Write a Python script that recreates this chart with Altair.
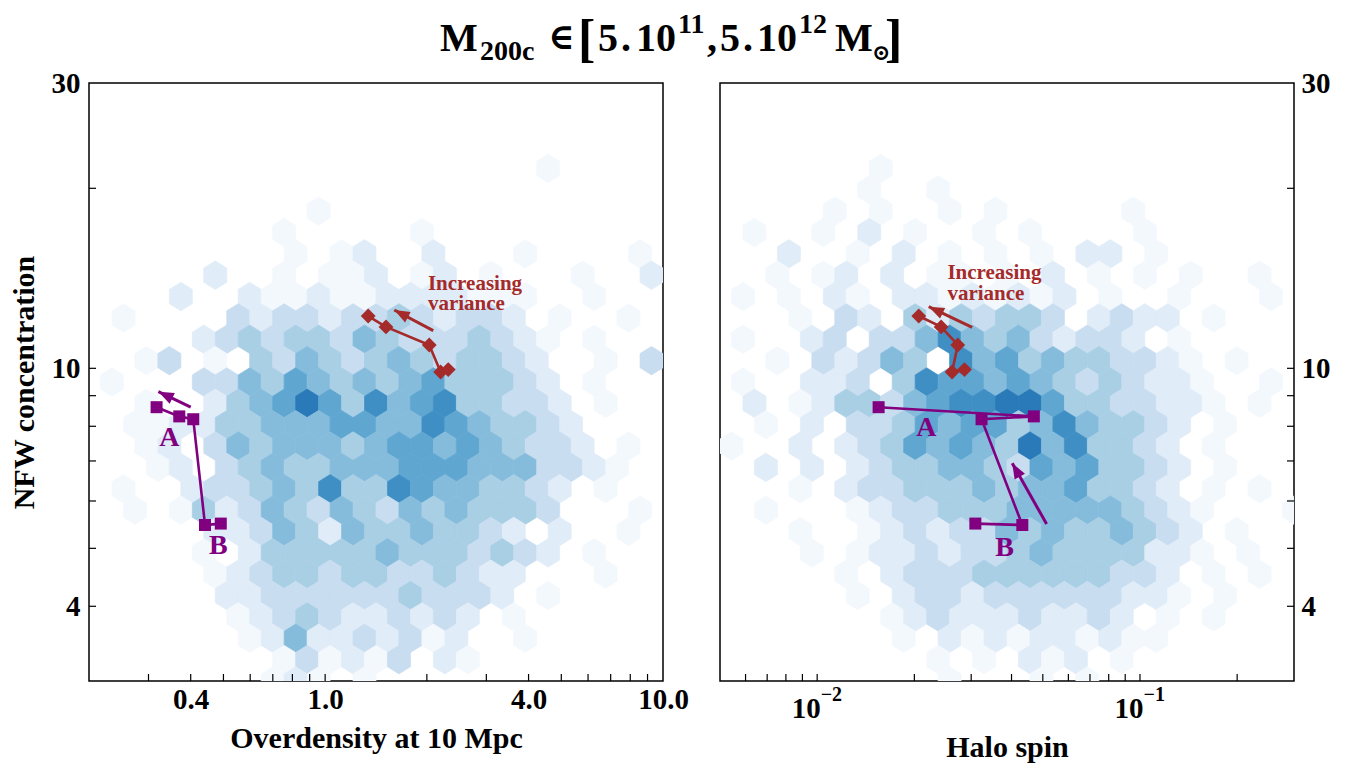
import altair as alt
import numpy as np
import pandas as pd

FONT = "Liberation Serif, DejaVu Serif"
W, H = 574, 598

# ---------------- hexbin grid (matplotlib-style, gridsize 25) ----------------
GRIDSIZE = 25
NY = 14
Y_LIM = [3.0, 30.0]
X_LIM_LEFT = [0.2, 10.0]
X_LIM_RIGHT = [0.005, 0.3]

# hex colour level per cell ('.' = empty); rows from top (k=28) to bottom (k=0)
left_rows = [
    "..........................",
    ".........................",
    "..........................",
    ".........................",
    "....................1.....",
    ".........................",
    "..........1...............",
    "........1.....1..........",
    ".........1.12..2...1....1.",
    ".....2..1.112.12.1...1..2",
    "....2..2112112222111..1...",
    ".1....3233233432332.1..1.",
    ".....2343443543334321.1...",
    "..13.1.4354345434432..1.3",
    ".1...3354654545644432.1...",
    "..1..2456864756744332.1..",
    "..11224455566557654432....",
    "..12.35455545665654332.1.",
    "...12.345445556665553321..",
    ".1..23345474476554432.1..",
    "..1.14235435435454443...1.",
    ".....22354254454432.2..1.",
    ".....1.24444454443432.1...",
    ".....12344344334322...1..",
    "......2233333343332.1.....",
    "......12343223232.1......",
    ".......1252232312..1......",
    "........131213.21........",
    "........121.1.............",
]

right_rows = [
    "..........................",
    ".........................",
    "..........................",
    ".........................",
    ".......1..................",
    "......1..1...............",
    ".....1.1..1.1.....1.......",
    ".1..1.2.1..1.1....1......",
    "...2..1.2.1.1.1.22.1......",
    "..1.12.2.11.1.2.1.1.1..1.",
    ".1.1.21.22121212.1..1...1.",
    "...1.32.4243443.2322.1...",
    ".1..23.335754532332.1.....",
    "..1.32354.75645443321.1..",
    ".1..223.47665654343221..1.",
    ".2.1244356778864433221.1.",
    "..1.2.334656645754432.1...",
    "1..2.234656548574432.1...",
    "..2.2.234455436564432.1...",
    "...1.233444545564432.1.1.",
    "..1...1233444555554321...1",
    "...1..123233545445432.1..",
    "....1.1223233454444221.1..",
    ".....1.2333444444332.1.1.",
    "......1.2332333333221.1...",
    ".......12322232232.1.1...",
    "........1.2121221211......",
    ".........1.1.212.1.......",
    "..........1...1.1.........",
]

LEVELS = [1, 2, 3, 4, 5, 6, 7, 8]
LEVEL_COLORS = ["#f3f8fd", "#e0ecf8", "#c8ddf0", "#a9cfe5",
                "#85bcdc", "#5fa6d1", "#3f8fc5", "#2a7ab9"]

# ---------------- tracks (shared concentration values) ----------------
purple_c = [8.61, 8.31, 8.22, 5.47, 5.50]
purple_delta = [0.317, 0.370, 0.407, 0.441, 0.491]
purple_spin = [0.0155, 0.0469, 0.0323, 0.0432, 0.0309]

red_c = [12.23, 11.73, 10.94, 9.86, 9.95]
red_delta = [1.341, 1.514, 2.033, 2.197, 2.314]
red_spin = [0.02064, 0.02421, 0.02726, 0.02618, 0.02860]

# arrows: tail x, tail y, head x, head y, screen angle of head, colour
arrows_left = [
    (0.400, 8.61, 0.321, 9.14, 296.0, "#800080"),
    (2.089, 11.56, 1.602, 12.52, 298.0, "#a52a2a"),
]
arrows_right = [
    (0.05138, 5.49, 0.04021, 6.94, 330.7, "#800080"),
    (0.03021, 11.71, 0.02216, 12.68, 295.4, "#a52a2a"),
]

# labels: x, y (baseline), text, colour, size
labels_left = [
    (0.3456, 7.42, "A", "#800080", 28),
    (0.4828, 4.89, "B", "#800080", 28),
    (2.015, 13.53, "Increasing", "#a52a2a", 21),
    (2.015, 12.52, "variance", "#a52a2a", 21),
]
labels_right = [
    (0.02180, 7.715, "A", "#800080", 28),
    (0.03805, 4.855, "B", "#800080", 28),
    (0.02532, 14.11, "Increasing", "#a52a2a", 21),
    (0.02532, 13.02, "variance", "#a52a2a", 21),
]

# ticks
y_ticks = [4, 5, 6, 7, 8, 9, 10, 20]
y_labels = [4, 10, 30]
left_x_ticks = [0.3, 0.4, 0.5, 0.6, 0.7, 0.8, 0.9, 1, 2, 3, 4, 5, 6, 7, 8, 9]
left_x_labels = [0.4, 1.0, 4.0, 10.0]
right_x_ticks = [0.006, 0.007, 0.008, 0.009, 0.01, 0.02, 0.03, 0.04, 0.05,
                 0.06, 0.07, 0.08, 0.09, 0.1, 0.2]
right_x_labels = [0.01, 0.1]
right_x_exps = ["\u22122", "\u22121"]

HEX_PATH = "M0,-1.2403L1,-0.6202L1,0.6202L0,1.2403L-1,0.6202L-1,-0.6202Z"
HEX_SIZE = (W / GRIDSIZE) ** 2
ARROW_PATH = "M0,0L0.5,1.3L-0.5,1.3Z"


def hex_frame(rows, xlim):
    lx0, lx1 = np.log10(xlim)
    ly0, ly1 = np.log10(Y_LIM)
    sx = (lx1 - lx0) / GRIDSIZE
    sy = (ly1 - ly0) / NY
    recs = []
    n = len(rows)
    for r, row in enumerate(rows):
        k = n - 1 - r
        off = 0.0 if k % 2 == 0 else 0.5
        ncell = 26 if k % 2 == 0 else 25
        row = (row + "." * 30)[:ncell]
        for i, ch in enumerate(row):
            if ch == ".":
                continue
            recs.append(dict(x=10 ** (lx0 + (i + off) * sx),
                             y=10 ** (ly0 + k * sy / 2), level=int(ch)))
    return pd.DataFrame(recs)


def panel(rows, xlim, xs, x_ticks, labels, arrows, xaxis, yaxis, right_side=False,
          extra=None):
    xsc = alt.Scale(type="log", domain=xlim, nice=False, zero=False)
    ysc = alt.Scale(type="log", domain=Y_LIM, nice=False, zero=False)

    def X(f):
        return alt.X(f, scale=xsc, axis=xaxis)

    def Y(f):
        return alt.Y(f, scale=ysc, axis=yaxis)

    hexdf = hex_frame(rows, xlim)
    cscale = alt.Scale(domain=LEVELS, range=LEVEL_COLORS)
    hexes = alt.Chart(hexdf).mark_point(
        shape=HEX_PATH, filled=True, size=HEX_SIZE, opacity=1,
        strokeWidth=0.7, clip=True
    ).encode(
        x=X("x:Q"), y=Y("y:Q"),
        fill=alt.Fill("level:O", scale=cscale, legend=None),
        stroke=alt.Stroke("level:O", scale=cscale, legend=None),
    )
    layers = [hexes]
    # inward ticks
    xt = alt.Chart(pd.DataFrame({"x": x_ticks})).mark_rule(
        color="black", strokeWidth=1.2).encode(
        x=X("x:Q"), y=alt.value(H), y2=alt.value(H - 7))
    layers.append(xt)
    yt_x = (W, W - 7) if right_side else (0, 7)
    yt = alt.Chart(pd.DataFrame({"y": y_ticks})).mark_rule(
        color="black", strokeWidth=1.2).encode(
        y=Y("y:Q"), x=alt.value(yt_x[0]), x2=alt.value(yt_x[1]))
    layers.append(yt)
    # tracks
    for cvals, xvals, col, shape, msize in [
        (purple_c, xs[0], "#800080", "square", 144),
        (red_c, xs[1], "#a52a2a", "diamond", 220),
    ]:
        df = pd.DataFrame({"x": xvals, "y": cvals, "o": list(range(len(cvals)))})
        base = alt.Chart(df)
        layers.append(base.mark_line(color=col, strokeWidth=2.6).encode(
            x=X("x:Q"), y=Y("y:Q"), order="o:Q"))
        layers.append(base.mark_point(shape=shape, filled=True, size=msize,
                                      color=col, opacity=1).encode(
            x=X("x:Q"), y=Y("y:Q")))
    # arrows
    adf = pd.DataFrame(arrows, columns=["x", "y", "x2", "y2", "ang", "col"])
    layers.append(alt.Chart(adf).mark_rule(strokeWidth=3).encode(
        x=X("x:Q"), y=Y("y:Q"),
        x2="x2:Q", y2="y2:Q", color=alt.Color("col:N", scale=None)))
    layers.append(alt.Chart(adf).mark_point(
        shape=ARROW_PATH, filled=True, size=560, opacity=1, strokeWidth=0).encode(
        x=X("x2:Q"), y=Y("y2:Q"),
        angle=alt.Angle("ang:Q", scale=None),
        fill=alt.Fill("col:N", scale=None)))
    # labels
    ldf = pd.DataFrame(labels, columns=["x", "y", "t", "col", "fs"])
    for fs, align in [(28, "center"), (21, "left")]:
        sub = ldf[ldf.fs == fs]
        layers.append(alt.Chart(sub).mark_text(
            font=FONT, fontWeight="bold", fontSize=fs, align=align,
            baseline="alphabetic").encode(
            x=X("x:Q"), y=Y("y:Q"),
            text="t:N", color=alt.Color("col:N", scale=None)))
    if extra is not None:
        for e in extra:
            layers.append(e(X, Y))
    return alt.layer(*layers).properties(width=W, height=H)


DUMMY = pd.DataFrame({"a": [0]})


def piece(txt, x, y, fs):
    return alt.Chart(DUMMY).mark_text(
        text=txt, font=FONT, fontWeight="bold", fontSize=fs, align="left",
        baseline="alphabetic", color="black").encode(
        x=alt.value(x), y=alt.value(y))


MAIN, SUB = 40, 28
title_pieces = [
    piece("M", 351, -32, MAIN),
    piece("200c", 391, -23, SUB),
    piece("\u2208", 459, -34, 36),
    piece("[", 489, -27, 52),
    piece("5", 509, -32, MAIN),
    piece(".", 532, -32, MAIN),
    piece("10", 547, -32, MAIN),
    piece("11", 589, -50, SUB),
    piece(",", 618, -32, MAIN),
    piece("5", 631, -32, MAIN),
    piece(".", 654, -32, MAIN),
    piece("10", 668, -32, MAIN),
    piece("12", 710, -50, SUB),
    piece("M", 746, -32, MAIN),
    piece("\u2299", 783, -23, 22),
    piece("]", 796, -27, 52),
]

axis_common = dict(ticks=False, tickSize=0, domain=False, grid=False,
                   labelFlush=False, labelOverlap=False)

left_x_axis = alt.Axis(values=left_x_labels, labelExpr="format(datum.value, '.1f')",
                       title="Overdensity at 10 Mpc", labelPadding=4,
                       titlePadding=9, **axis_common)
left_y_axis = alt.Axis(values=y_labels, labelExpr="format(datum.value, 'd')",
                       title="NFW concentration", labelPadding=9,
                       titlePadding=12, **axis_common)
right_x_axis = alt.Axis(values=right_x_labels, labels=False, title="Halo spin",
                        titlePadding=51, **axis_common)
right_y_axis = alt.Axis(values=y_labels, labelExpr="format(datum.value, 'd')",
                        title=None, orient="right", labelPadding=7,
                        **axis_common)

rx_df = pd.DataFrame({"x": right_x_labels, "e": right_x_exps})
right_extra = [
    lambda X, Y: alt.Chart(rx_df).mark_text(
        text="10", font=FONT, fontWeight="bold", fontSize=29, align="right",
        dx=3.5, baseline="alphabetic", color="black").encode(
        x=X("x:Q"), y=alt.value(H + 36.5)),
    lambda X, Y: alt.Chart(rx_df).mark_text(
        font=FONT, fontWeight="bold", fontSize=20, align="left", dx=3.5,
        baseline="alphabetic", color="black").encode(
        x=X("x:Q"), y=alt.value(H + 19.7), text="e:N"),
]

left = panel(left_rows, X_LIM_LEFT, (purple_delta, red_delta), left_x_ticks,
             labels_left, arrows_left, left_x_axis, left_y_axis)
left = alt.layer(left, *title_pieces)
right = panel(right_rows, X_LIM_RIGHT, (purple_spin, red_spin), right_x_ticks,
              labels_right, arrows_right, right_x_axis, right_y_axis,
              right_side=True, extra=right_extra)

chart = alt.hconcat(left, right, spacing=57, bounds="flush").configure_view(
    stroke="black", strokeWidth=1.5
).configure_axis(
    labelFont=FONT, titleFont=FONT, labelFontSize=29, titleFontSize=30,
    labelFontWeight="bold", titleFontWeight="bold",
    labelColor="black", titleColor="black"
).properties(
    background="white",
    padding={"left": 0, "top": 2, "right": 5, "bottom": 5},
)

chart.save("out.html", embed_options={"renderer": "svg", "actions": False})
